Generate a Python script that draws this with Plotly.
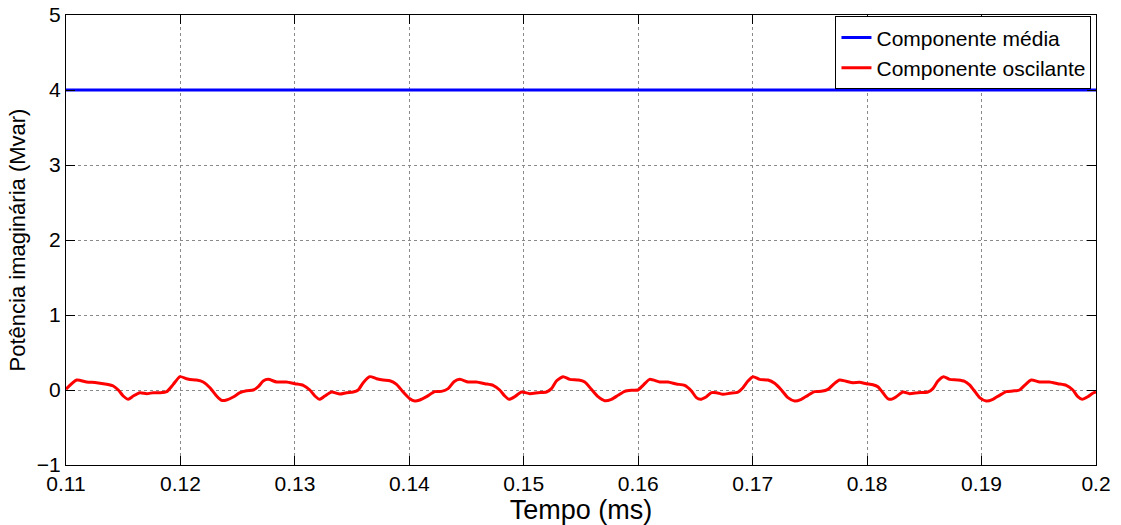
import plotly.graph_objects as go

# Tempo (ms) and oscillating imaginary-power component (Mvar)
tempo = [
    0.11000, 0.11093, 0.11180, 0.11268, 0.11355, 0.11413, 0.11457, 0.11500, 0.11544, 0.11588,
    0.11646, 0.11705, 0.11763, 0.11821, 0.11880, 0.11937, 0.11996, 0.12054, 0.12083, 0.12141,
    0.12199, 0.12258, 0.12316, 0.12359, 0.12403, 0.12461, 0.12520, 0.12578, 0.12636, 0.12680,
    0.12723, 0.12767, 0.12840, 0.12927, 0.13000, 0.13073, 0.13131, 0.13175, 0.13215, 0.13262,
    0.13320, 0.13393, 0.13451, 0.13509, 0.13553, 0.13597, 0.13655, 0.13714, 0.13771, 0.13830,
    0.13888, 0.13946, 0.14004, 0.14048, 0.14092, 0.14150, 0.14223, 0.14281, 0.14339, 0.14390,
    0.14441, 0.14514, 0.14587, 0.14659, 0.14732, 0.14790, 0.14834, 0.14872, 0.14921, 0.14980,
    0.15052, 0.15125, 0.15198, 0.15242, 0.15285, 0.15343, 0.15402, 0.15480, 0.15533, 0.15591,
    0.15649, 0.15707, 0.15766, 0.15824, 0.15882, 0.15941, 0.15998, 0.16042, 0.16100, 0.16188,
    0.16260, 0.16333, 0.16406, 0.16465, 0.16508, 0.16543, 0.16596, 0.16640, 0.16683, 0.16741,
    0.16799, 0.16872, 0.16915, 0.16959, 0.17003, 0.17061, 0.17134, 0.17192, 0.17251, 0.17308,
    0.17367, 0.17425, 0.17483, 0.17541, 0.17600, 0.17658, 0.17716, 0.17760, 0.17818, 0.17876,
    0.17934, 0.17993, 0.18051, 0.18094, 0.18138, 0.18182, 0.18211, 0.18255, 0.18313, 0.18371,
    0.18444, 0.18531, 0.18575, 0.18619, 0.18668, 0.18721, 0.18794, 0.18852, 0.18895, 0.18932,
    0.18983, 0.19041, 0.19099, 0.19157, 0.19216, 0.19274, 0.19332, 0.19376, 0.19434, 0.19507,
    0.19594, 0.19666, 0.19740, 0.19798, 0.19841, 0.19880, 0.19929, 0.19972, 0.20000,
]
oscilante = [
    0.010, 0.133, 0.107, 0.098, 0.076, 0.053, 0.000, -0.080, -0.124, -0.080,
    -0.036, -0.049, -0.036, -0.036, -0.022, 0.075, 0.178, 0.151, 0.140, 0.133,
    0.107, 0.031, -0.080, -0.138, -0.133, -0.093, -0.036, -0.009, 0.000, 0.044,
    0.120, 0.142, 0.107, 0.107, 0.084, 0.062, 0.000, -0.080, -0.124, -0.080,
    -0.027, -0.053, -0.036, -0.027, 0.000, 0.098, 0.178, 0.151, 0.133, 0.124,
    0.076, -0.027, -0.116, -0.147, -0.133, -0.089, -0.022, -0.018, 0.018, 0.110,
    0.142, 0.107, 0.107, 0.084, 0.062, 0.000, -0.080, -0.124, -0.089, -0.027,
    -0.049, -0.036, -0.027, 0.018, 0.120, 0.178, 0.142, 0.133, 0.107, 0.009,
    -0.089, -0.142, -0.124, -0.071, -0.018, -0.004, 0.000, 0.062, 0.142, 0.107,
    0.107, 0.080, 0.062, -0.013, -0.102, -0.124, -0.089, -0.036, -0.036, -0.058,
    -0.044, -0.027, 0.031, 0.120, 0.178, 0.142, 0.133, 0.089, 0.000, -0.102,
    -0.147, -0.124, -0.071, -0.022, -0.018, 0.009, 0.089, 0.133, 0.116, 0.098,
    0.102, 0.084, 0.071, 0.044, -0.036, -0.116, -0.124, -0.089, -0.027, -0.049,
    -0.036, -0.027, 0.018, 0.120, 0.178, 0.142, 0.133, 0.116, 0.068, 0.000,
    -0.102, -0.147, -0.124, -0.071, -0.022, -0.013, 0.000, 0.062, 0.133, 0.107,
    0.107, 0.084, 0.062, 0.000, -0.089, -0.124, -0.089, -0.044, -0.027,
]

# Mean component (constant) over the same time span
tempo_media = [0.11, 0.20]
media = [4.0, 4.0]

x_ticks = [0.11, 0.12, 0.13, 0.14, 0.15, 0.16, 0.17, 0.18, 0.19, 0.20]
x_tick_labels = ["0.11", "0.12", "0.13", "0.14", "0.15", "0.16", "0.17", "0.18", "0.19", "0.2"]
y_ticks = [-1, 0, 1, 2, 3, 4, 5]
y_tick_labels = ["\u22121", "0", "1", "2", "3", "4", "5"]

FONT = "Liberation Sans, Arial, Helvetica, sans-serif"

fig = go.Figure()
fig.add_trace(go.Scatter(
    x=tempo_media, y=media, mode="lines", name="Componente média",
    line=dict(color="#0000ff", width=3),
))
fig.add_trace(go.Scatter(
    x=tempo, y=oscilante, mode="lines", name="Componente oscilante",
    line=dict(color="#ff0000", width=3, shape="spline", smoothing=0.6),
))

axis_common = dict(
    showline=True, linecolor="black", linewidth=1, mirror="ticks",
    ticks="inside", ticklen=9, tickcolor="black", tickwidth=1,
    showgrid=True, gridcolor="#8a8a8a", gridwidth=1, griddash="dot",
    zeroline=False, automargin=False,
    tickfont=dict(family=FONT, size=21, color="black"),
)

fig.update_xaxes(
    range=[0.11, 0.2], tickmode="array", tickvals=x_ticks, ticktext=x_tick_labels,
    title=dict(text="Tempo (ms)", font=dict(family=FONT, size=27, color="black"), standoff=1),
    **axis_common,
)
fig.update_yaxes(
    range=[-1, 5], tickmode="array", tickvals=y_ticks, ticktext=y_tick_labels,
    title=dict(text="Potência imaginária (Mvar)", font=dict(family=FONT, size=22, color="black"), standoff=5),
    **axis_common,
)

fig.update_layout(
    width=1121, height=525,
    margin=dict(l=66, r=25, t=15, b=60),
    paper_bgcolor="white", plot_bgcolor="white",
    font=dict(family=FONT, color="black"),
    legend=dict(
        x=0.9956, y=0.997, xanchor="right", yanchor="top",
        bgcolor="white", bordercolor="black", borderwidth=1,
        font=dict(family=FONT, size=21, color="black"),
        tracegroupgap=0, itemwidth=30,
    ),
    showlegend=True,
)

fig.write_html("out.html")
